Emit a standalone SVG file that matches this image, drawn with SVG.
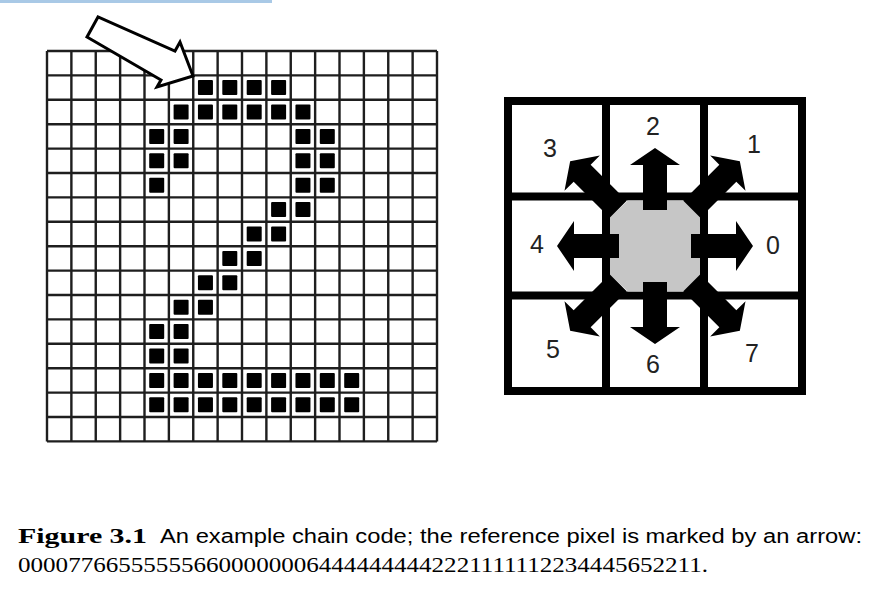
<svg xmlns="http://www.w3.org/2000/svg" xmlns:xlink="http://www.w3.org/1999/xlink" width="876" height="604" viewBox="0 0 876 604">
<style>
.gl{fill:none;stroke:#1e1e1e;stroke-width:2.4}
.px{fill:#000}
.ptr{fill:#fff;stroke:#000;stroke-width:3;stroke-linejoin:miter}
.cl{fill:none;stroke:#000;stroke-width:8}
.oct{fill:#c6c6c6}
.ar{fill:#000}
.lbl{font-family:"Liberation Sans",Arial,sans-serif;font-size:25px;fill:#222;text-anchor:middle}
.capb{font-family:"Liberation Serif","Times New Roman",serif;font-weight:bold;font-size:21px;fill:#000}
.caps{font-family:"Liberation Sans",Arial,sans-serif;font-size:20px;fill:#000}
.capn{font-family:"Liberation Serif","Times New Roman",serif;font-size:21px;fill:#000}
</style>
<defs>
<path id="aO" d="M36,-12 H81 V-25 L98,0 L81,25 V12 H36 Z"/>
<path id="aD" d="M52,-12 H103 V-25 L120,0 L103,25 V12 H52 Z"/>
<rect id="sq" width="15" height="15" rx="1"/>
</defs>
<rect x="0" y="0" width="876" height="604" fill="#fff"/>
<rect x="0" y="0" width="272" height="3" fill="#a9c9e6"/>

<g id="pixel-grid">
<path class="gl" d="M47 51V441.4M71.38 51V441.4M95.75 51V441.4M120.13 51V441.4M144.5 51V441.4M168.88 51V441.4M193.25 51V441.4M217.63 51V441.4M242 51V441.4M266.38 51V441.4M290.75 51V441.4M315.13 51V441.4M339.5 51V441.4M363.88 51V441.4M388.25 51V441.4M412.63 51V441.4M437 51V441.4M47 51H437M47 75.4H437M47 99.8H437M47 124.2H437M47 148.6H437M47 173H437M47 197.4H437M47 221.8H437M47 246.2H437M47 270.6H437M47 295H437M47 319.4H437M47 343.8H437M47 368.2H437M47 392.6H437M47 417H437M47 441.4H437"/>
<g class="px">
<use xlink:href="#sq" x="197.95" y="80.1"/><use xlink:href="#sq" x="222.3" y="80.1"/><use xlink:href="#sq" x="246.7" y="80.1"/><use xlink:href="#sq" x="271.1" y="80.1"/>
<use xlink:href="#sq" x="173.6" y="104.5"/><use xlink:href="#sq" x="197.95" y="104.5"/><use xlink:href="#sq" x="222.3" y="104.5"/><use xlink:href="#sq" x="246.7" y="104.5"/><use xlink:href="#sq" x="271.1" y="104.5"/><use xlink:href="#sq" x="295.45" y="104.5"/>
<use xlink:href="#sq" x="149.2" y="128.9"/><use xlink:href="#sq" x="173.6" y="128.9"/><use xlink:href="#sq" x="295.45" y="128.9"/><use xlink:href="#sq" x="319.8" y="128.9"/>
<use xlink:href="#sq" x="149.2" y="153.3"/><use xlink:href="#sq" x="173.6" y="153.3"/><use xlink:href="#sq" x="295.45" y="153.3"/><use xlink:href="#sq" x="319.8" y="153.3"/>
<use xlink:href="#sq" x="149.2" y="177.7"/><use xlink:href="#sq" x="295.45" y="177.7"/><use xlink:href="#sq" x="319.8" y="177.7"/>
<use xlink:href="#sq" x="271.1" y="202.1"/><use xlink:href="#sq" x="295.45" y="202.1"/>
<use xlink:href="#sq" x="246.7" y="226.5"/><use xlink:href="#sq" x="271.1" y="226.5"/>
<use xlink:href="#sq" x="222.3" y="250.9"/><use xlink:href="#sq" x="246.7" y="250.9"/>
<use xlink:href="#sq" x="197.95" y="275.3"/><use xlink:href="#sq" x="222.3" y="275.3"/>
<use xlink:href="#sq" x="173.6" y="299.7"/><use xlink:href="#sq" x="197.95" y="299.7"/>
<use xlink:href="#sq" x="149.2" y="324.1"/><use xlink:href="#sq" x="173.6" y="324.1"/>
<use xlink:href="#sq" x="149.2" y="348.5"/><use xlink:href="#sq" x="173.6" y="348.5"/>
<use xlink:href="#sq" x="149.2" y="372.9"/><use xlink:href="#sq" x="173.6" y="372.9"/><use xlink:href="#sq" x="197.95" y="372.9"/><use xlink:href="#sq" x="222.3" y="372.9"/><use xlink:href="#sq" x="246.7" y="372.9"/><use xlink:href="#sq" x="271.1" y="372.9"/><use xlink:href="#sq" x="295.45" y="372.9"/><use xlink:href="#sq" x="319.8" y="372.9"/><use xlink:href="#sq" x="344.2" y="372.9"/>
<use xlink:href="#sq" x="149.2" y="397.3"/><use xlink:href="#sq" x="173.6" y="397.3"/><use xlink:href="#sq" x="197.95" y="397.3"/><use xlink:href="#sq" x="222.3" y="397.3"/><use xlink:href="#sq" x="246.7" y="397.3"/><use xlink:href="#sq" x="271.1" y="397.3"/><use xlink:href="#sq" x="295.45" y="397.3"/><use xlink:href="#sq" x="319.8" y="397.3"/><use xlink:href="#sq" x="344.2" y="397.3"/>
</g>
</g>

<g id="reference-arrow">
<polygon class="ptr" points="98,17 87,37 161,80 157,87 193,76 180,42 175,51"/>
</g>

<g id="direction-compass">
<rect class="cl" x="508" y="101" width="294" height="290"/>
<path class="cl" d="M606 101V391M704 101V391M508 196.5H802M508 295.5H802"/>
<polygon class="oct" points="628,200.5 683,200.5 700,217.5 700,274.5 683,291.5 628,291.5 610,274.5 610,217.5"/>
<g class="ar">
<use xlink:href="#aO" transform="translate(655,246)"/>
<use xlink:href="#aD" transform="translate(655,246) rotate(-45)"/>
<use xlink:href="#aO" transform="translate(655,246) rotate(-90)"/>
<use xlink:href="#aD" transform="translate(655,246) rotate(-135)"/>
<use xlink:href="#aO" transform="translate(655,246) rotate(180)"/>
<use xlink:href="#aD" transform="translate(655,246) rotate(135)"/>
<use xlink:href="#aO" transform="translate(655,246) rotate(90)"/>
<use xlink:href="#aD" transform="translate(655,246) rotate(45)"/>
</g>
<text class="lbl" x="773" y="254">0</text>
<text class="lbl" x="754" y="153">1</text>
<text class="lbl" x="653" y="135">2</text>
<text class="lbl" x="550" y="157">3</text>
<text class="lbl" x="537" y="253">4</text>
<text class="lbl" x="553" y="358">5</text>
<text class="lbl" x="653" y="373">6</text>
<text class="lbl" x="752" y="362">7</text>
</g>

<g id="caption">
<text class="capb" x="18" y="543" textLength="129" lengthAdjust="spacingAndGlyphs">Figure 3.1</text>
<text class="caps" x="160" y="543" textLength="702" lengthAdjust="spacingAndGlyphs">An example chain code; the reference pixel is marked by an arrow:</text>
<text class="capn" x="18" y="572" textLength="690" lengthAdjust="spacingAndGlyphs">0000776655555566000000064444444442221111112234445652211.</text>
</g>
</svg>
